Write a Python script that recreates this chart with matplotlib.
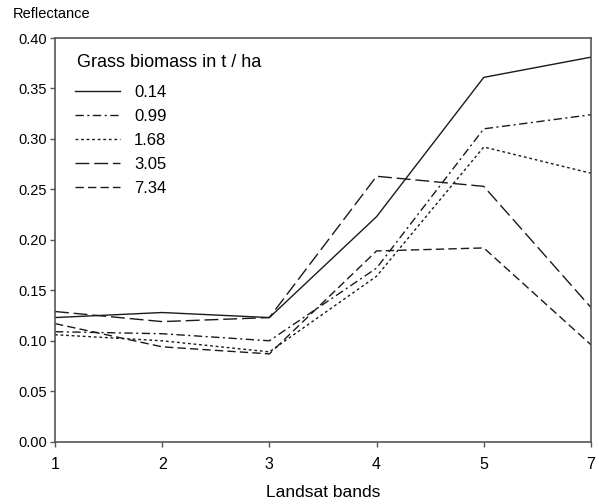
import matplotlib
matplotlib.use("Agg")
import matplotlib.pyplot as plt

plt.rcParams['font.family'] = ['Liberation Sans', 'DejaVu Sans']

bands = ["1", "2", "3", "4", "5", "7"]
series_labels = ["0.14", "0.99", "1.68", "3.05", "7.34"]
s014 = [0.123, 0.128, 0.123, 0.223, 0.361, 0.381]
s099 = [0.109, 0.107, 0.100, 0.172, 0.310, 0.324]
s168 = [0.106, 0.100, 0.089, 0.164, 0.292, 0.266]
s305 = [0.129, 0.119, 0.123, 0.263, 0.253, 0.133]
s734 = [0.117, 0.094, 0.087, 0.189, 0.192, 0.096]
yticks = [0.00, 0.05, 0.10, 0.15, 0.20, 0.25, 0.30, 0.35, 0.40]

styles = [
    '-',
    (0, (6, 2.5, 1.5, 2.5)),
    (0, (2, 2)),
    (0, (10, 3.5)),
    (0, (6, 3)),
]

fig = plt.figure(figsize=(5.99, 5.04), dpi=100)
ax = fig.add_axes([0.0918, 0.1236, 0.8948, 0.801])
x = list(range(len(bands)))
for vals, lab, ls in zip([s014, s099, s168, s305, s734], series_labels, styles):
    ax.plot(x, vals, color='#1a1a1a', linewidth=1.0, linestyle=ls, label=lab)

ax.set_xlim(0, len(bands) - 1)
ax.set_ylim(0, 0.40)
ax.set_xticks(x)
ax.set_xticklabels(bands, fontsize=11.5)
ax.set_yticks(yticks)
ax.set_yticklabels([f"{v:.2f}" for v in yticks], fontsize=10.5)
for s in ax.spines.values():
    s.set_color('#555555')
    s.set_linewidth(1.2)
ax.tick_params(direction='out', length=3.6, color='#555555', width=1.0, pad=2)
ax.tick_params(axis='x', pad=7.5)
ax.set_xlabel("Landsat bands", fontsize=12.5, labelpad=9)
fig.text(13 / 599, 1 - 18.3 / 504, "Reflectance", fontsize=10.5, ha='left', va='baseline')

fig.text(77 / 599, 1 - 67 / 504, "Grass biomass in t / ha", fontsize=13,
         ha='left', va='baseline')
leg = ax.legend(loc='upper left', bbox_to_anchor=(0.0373, 0.884), frameon=False,
                fontsize=12, handlelength=2.7, handletextpad=0.85,
                labelspacing=0.54, borderpad=0, borderaxespad=0)
fig.savefig("out.png", dpi=100)
